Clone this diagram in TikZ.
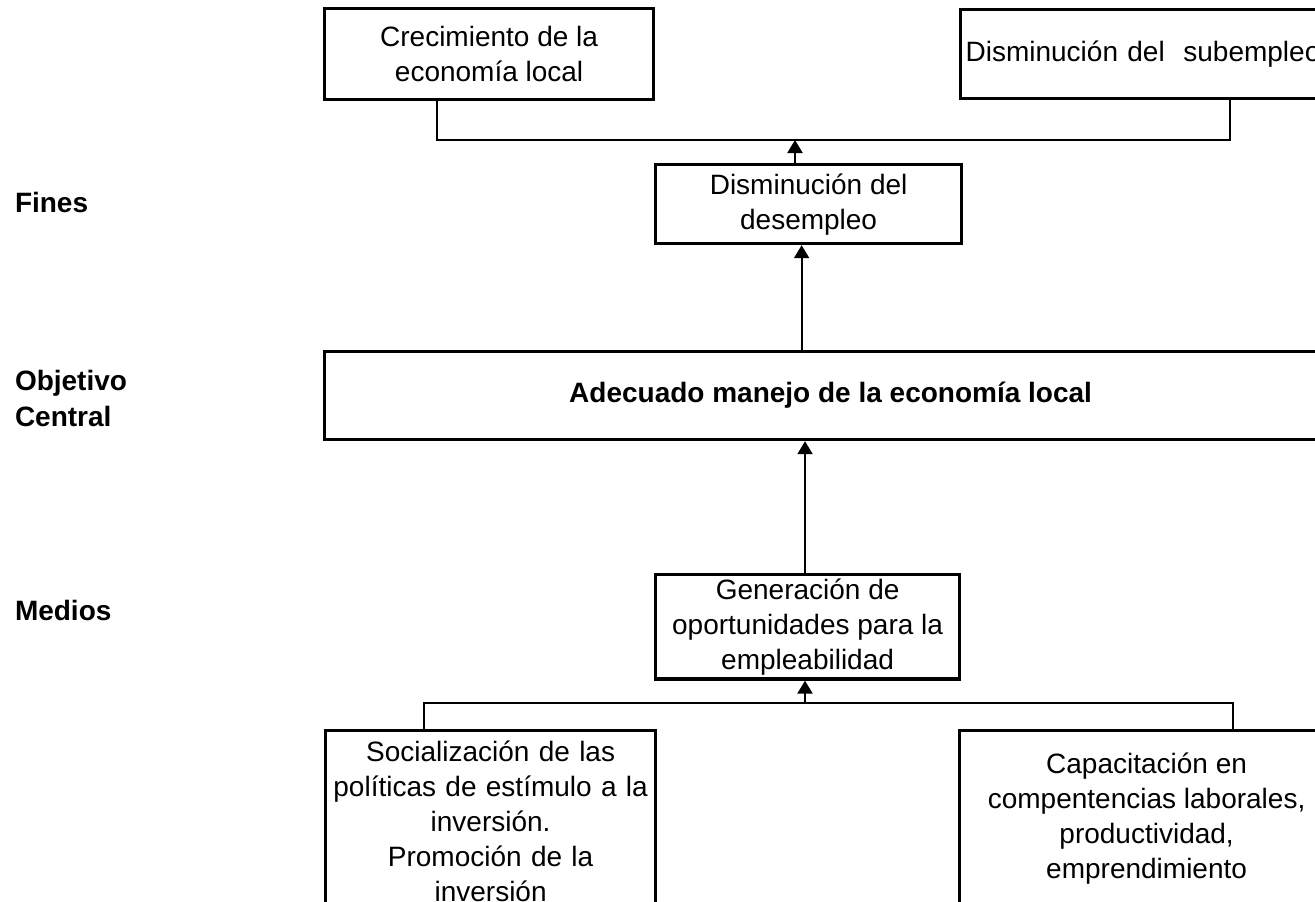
\documentclass[tikz,border=0pt]{standalone}
\usepackage{fontspec}
\setmainfont{Liberation Sans}
\usetikzlibrary{arrows.meta}

\tikzset{every picture/.style={line width=2pt}}
\tikzset{
  box/.style={draw, line width=3.2pt, align=center, inner sep=4pt, font=\fontsize{28pt}{35pt}\selectfont},
  lbl/.style={inner sep=0pt, align=left, font=\fontsize{28pt}{36pt}\selectfont\bfseries},
  arr/.style={-{Triangle[length=13pt,width=15pt]}}
}

\begin{document}
\begin{tikzpicture}[x=1pt,y=1pt,yscale=-1,xscale=1]
                  \useasboundingbox (0,0) rectangle (1315,902);
                  \clip (0,0) rectangle (1315,902);

                  % Text Node
                  \node [lbl, anchor=base west] (fines) at (14,212) {Fines};
                  % Text Node
                  \node [lbl, anchor=west] (objetivo) at (14,398) {Objetivo\\Central};
                  % Text Node
                  \node [lbl, anchor=base west] (medios) at (14,620) {Medios};

                  % Fines
                  \node [box, anchor=north west, minimum width=329pt, minimum height=91pt] (crec) at (323,7) {Crecimiento de la\\economía local};
                  \node [box, anchor=north west, minimum width=420pt, minimum height=89pt, align=left, text width=410pt, inner xsep=3pt] (subemp) at (959,8) {Disminución del\ \ subempleo};
                  \node [box, anchor=north west, minimum width=306pt, minimum height=79pt] (desemp) at (654,163) {Disminución del\\desempleo};

                  % Objetivo central
                  \node [box, anchor=north west, minimum width=1012pt, minimum height=88pt, font=\fontsize{28pt}{35pt}\selectfont\bfseries] (central) at (323,350) {Adecuado manejo de la economía local};

                  % Medios
                  \node [box, anchor=north west, minimum width=304pt, minimum height=100pt] (gener) at (654,573) {Generación de\\oportunidades para la\\empleabilidad};
                  \node [box, anchor=north west, minimum width=330pt, minimum height=182pt, inner ysep=5pt, text width=322pt] (social) at (324,729) {Socialización de las\\políticas de estímulo a la\\inversión.\\Promoción de la\\inversión};
                  \node [box, anchor=north west, minimum width=374pt, minimum height=176pt] (capac) at (958,729) {Capacitación en\\compentencias laborales,\\productividad,\\emprendimiento};

                  %Straight Lines
                  \coordinate (finbar) at (795,140);
                  \coordinate (medbar) at (805,703);
                  \draw ([xshift=114pt]crec.south west) |- (finbar) -| ([xshift=271pt]subemp.south west);
                  \draw [arr] (desemp.north -| finbar) -- (finbar);
                  \draw [arr] ([xshift=-7pt]desemp.south |- central.north) -- ([xshift=-7pt]desemp.south);
                  \draw [arr] (gener.north -| medbar) -- (central.south -| medbar);
                  \draw [arr] (medbar) -- (gener.south -| medbar);
                  \draw ([xshift=100pt]social.north west) |- (medbar) -| ([xshift=275pt]capac.north west);

\end{tikzpicture}
\end{document}
